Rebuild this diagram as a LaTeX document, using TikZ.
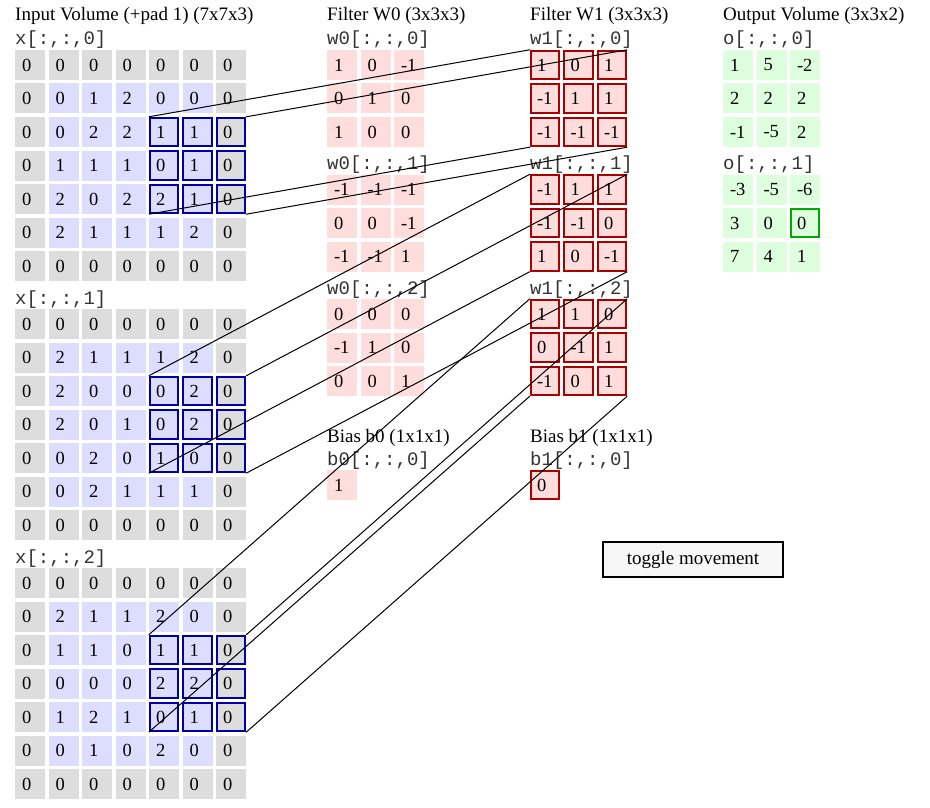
\documentclass[tikz,border=0pt]{standalone}
\usepackage{fontspec}
\setmainfont{Liberation Serif}
\newfontfamily\monof{Liberation Mono}
\definecolor{gcell}{HTML}{DDDDDD}
\definecolor{bcell}{HTML}{DDDDFF}
\definecolor{rcell}{HTML}{FFDDDD}
\definecolor{ocell}{HTML}{DDFFDD}
\definecolor{hblue}{HTML}{0000AA}
\definecolor{hred}{HTML}{AA0000}
\definecolor{hgreen}{HTML}{00AA00}
\newcommand\cellgrid[4]{% name, x, y, data
  \foreach \rowdata [count=\r from 0] in {#4} {
    \foreach \v [count=\c from 0] in \rowdata {
      \node[cell,fill=\gridfill] (#1-\r-\c) at (#2+\c*33.5+15,#3+\r*33.5+15) {\v};
    }
  }
}
\newcommand\inputgrid[3]{% name, y, data
  \foreach \rowdata [count=\r from 0] in {#3} {
    \foreach \v [count=\c from 0] in \rowdata {
      \pgfmathtruncatemacro\isedge{(\r==0||\r==6||\c==0||\c==6)?1:0}
      \ifnum\isedge=1 \def\fc{gcell}\else\def\fc{bcell}\fi
      \node[cell,fill=\fc] (#1-\r-\c) at (15+\c*33.5+15,#2+\r*33.5+15) {\v};
    }
  }
}
\newcommand\hlbox[2]{\draw[#2,line width=2pt] ([shift={(1pt,-1pt)}]#1.north west) rectangle ([shift={(-1pt,1pt)}]#1.south east);}
\begin{document}
\begin{tikzpicture}[x=1pt,y=-1pt,
  cell/.style={rectangle,minimum width=30pt,minimum height=30pt,inner xsep=7pt,inner ysep=0pt,text width=16pt,align=left,font=\fontsize{18.5}{20}\selectfont},
  title/.style={anchor=base west,inner sep=0pt,font=\fontsize{19}{21}\selectfont},
  mlabel/.style={anchor=base west,inner sep=0pt,font=\monof\fontsize{19}{20}\selectfont,text=black!80},
  conn/.style={black,line width=1pt}]
\useasboundingbox (0,0) rectangle (930,808);
% titles
\node[title] (t1) at (15,21) {Input Volume (+pad 1) (7x7x3)};
\node[title] (t2) at (327,21) {Filter W0 (3x3x3)};
\node[title] (t3) at (530,21) {Filter W1 (3x3x3)};
\node[title] (t4) at (723,21) {Output Volume (3x3x2)};
% input
\node[mlabel] (lx0) at (15,45) {x[:,:,0]};
\node[mlabel] (lx1) at (15,304) {x[:,:,1]};
\node[mlabel] (lx2) at (15,563) {x[:,:,2]};
\inputgrid{x0}{50}{{0,0,0,0,0,0,0},{0,0,1,2,0,0,0},{0,0,2,2,1,1,0},{0,1,1,1,0,1,0},{0,2,0,2,2,1,0},{0,2,1,1,1,2,0},{0,0,0,0,0,0,0}}
\inputgrid{x1}{309}{{0,0,0,0,0,0,0},{0,2,1,1,1,2,0},{0,2,0,0,0,2,0},{0,2,0,1,0,2,0},{0,0,2,0,1,0,0},{0,0,2,1,1,1,0},{0,0,0,0,0,0,0}}
\inputgrid{x2}{568}{{0,0,0,0,0,0,0},{0,2,1,1,2,0,0},{0,1,1,0,1,1,0},{0,0,0,0,2,2,0},{0,1,2,1,0,1,0},{0,0,1,0,2,0,0},{0,0,0,0,0,0,0}}
% W0
\def\gridfill{rcell}
\node[mlabel] (lw00) at (327,45) {w0[:,:,0]};
\node[mlabel] (lw01) at (327,169.5) {w0[:,:,1]};
\node[mlabel] (lw02) at (327,294) {w0[:,:,2]};
\cellgrid{w0s0}{327}{50}{{1,0,-1},{0,1,0},{1,0,0}}
\cellgrid{w0s1}{327}{174.5}{{-1,-1,-1},{0,0,-1},{-1,-1,1}}
\cellgrid{w0s2}{327}{299}{{0,0,0},{-1,1,0},{0,0,1}}
\node[title] (tb0) at (327,442) {Bias b0 (1x1x1)};
\node[mlabel] (lb0) at (327,465) {b0[:,:,0]};
\cellgrid{b0}{327}{470}{{1}}
% W1
\node[mlabel] (lw10) at (530,45) {w1[:,:,0]};
\node[mlabel] (lw11) at (530,169.5) {w1[:,:,1]};
\node[mlabel] (lw12) at (530,294) {w1[:,:,2]};
\cellgrid{w1s0}{530}{50}{{1,0,1},{-1,1,1},{-1,-1,-1}}
\cellgrid{w1s1}{530}{174.5}{{-1,1,1},{-1,-1,0},{1,0,-1}}
\cellgrid{w1s2}{530}{299}{{1,1,0},{0,-1,1},{-1,0,1}}
\node[title] (tb1) at (530,442) {Bias b1 (1x1x1)};
\node[mlabel] (lb1) at (530,465) {b1[:,:,0]};
\cellgrid{b1}{530}{470}{{0}}
% output
\def\gridfill{ocell}
\node[mlabel] (lo0) at (723,45) {o[:,:,0]};
\node[mlabel] (lo1) at (723,169.5) {o[:,:,1]};
\cellgrid{o0}{723}{50}{{1,5,-2},{2,2,2},{-1,-5,2}}
\cellgrid{o1}{723}{174.5}{{-3,-5,-6},{3,0,0},{7,4,1}}
% highlights
\foreach \s in {0,1,2}{
  \foreach \r in {2,3,4}{\foreach \c in {4,5,6}{\hlbox{x\s-\r-\c}{hblue}}}
  \foreach \r in {0,1,2}{\foreach \c in {0,1,2}{\hlbox{w1s\s-\r-\c}{hred}}}
}
\hlbox{b1-0-0}{hred}
\hlbox{o1-1-2}{hgreen}
% connectors
\foreach \s in {0,1,2}{
  \draw[conn] (x\s-2-4.north west) -- (w1s\s-0-0.north west);
  \draw[conn] (x\s-2-6.north east) -- (w1s\s-0-2.north east);
  \draw[conn] (x\s-4-4.south west) -- (w1s\s-2-0.south west);
  \draw[conn] (x\s-4-6.south east) -- (w1s\s-2-2.south east);
}
% button
\node[draw=black,line width=2.5pt,fill=black!3,minimum width=180pt,minimum height=35pt,inner sep=0pt,font=\fontsize{19}{21}\selectfont] (btn) at (693,559.5) {toggle movement};
\end{tikzpicture}
\end{document}
